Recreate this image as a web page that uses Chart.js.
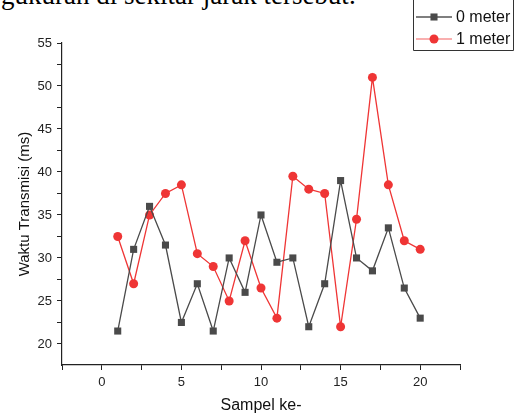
<!DOCTYPE html>
<html>
<head>
<meta charset="utf-8">
<script src="https://cdn.jsdelivr.net/npm/chart.js@4.4.0/dist/chart.umd.min.js"></script>
<style>
  html, body { margin: 0; padding: 0; background: #fff; overflow: hidden; }
  #wrap { position: relative; width: 525px; height: 417px; }
  #topText {
    position: absolute; left: 1px; top: -18px;
    font-family: "Liberation Serif", "Times New Roman", serif;
    font-size: 27px; line-height: 27px; color: #000; white-space: nowrap;
  }
  canvas { position: absolute; left: 0; top: 0; }
</style>
</head>
<body>
<div id="wrap">
  <div id="topText">gukuran di sekitar jarak tersebut.</div>
  <canvas id="chart" width="525" height="417"></canvas>
</div>
<script>
// Data
const sampel = [1, 2, 3, 4, 5, 6, 7, 8, 9, 10, 11, 12, 13, 14, 15, 16, 17, 18, 19, 20];
const waktu0m = [21.5, 31, 36, 31.5, 22.5, 27, 21.5, 30, 26, 35, 29.5, 30, 22, 27, 39, 30, 28.5, 33.5, 26.5, 23];
const waktu1m = [32.5, 27, 35, 37.5, 38.5, 30.5, 29, 25, 32, 26.5, 23, 39.5, 38, 37.5, 22, 34.5, 51, 38.5, 32, 31];
const seriesNames = ['0 meter', '1 meter'];
const xTicks = [-2.5, 0, 2.5, 5, 7.5, 10, 12.5, 15, 17.5, 20, 22.5];
const yTicks = [20, 22.5, 25, 27.5, 30, 32.5, 35, 37.5, 40, 42.5, 45, 47.5, 50, 52.5, 55];

const grey = '#4a4a4a';
const red = '#ef3535';

// Legend box drawn in the top right corner, like the original
const boxLegend = {
    id: 'boxLegend',
    afterDraw(chart) {
        const ctx = chart.ctx;
        ctx.save();
        ctx.strokeStyle = '#333';
        ctx.lineWidth = 1;
        ctx.beginPath();
        ctx.moveTo(413.5, 0);
        ctx.lineTo(413.5, 50.5);
        ctx.lineTo(513.5, 50.5);
        ctx.lineTo(513.5, 0);
        ctx.stroke();

        const rows = [
            { y: 17, line: '#555', fill: grey, style: 'rect', r: 5 },
            { y: 39, line: '#f79595', fill: red, style: 'circle', r: 4.5 }
        ];
        rows.forEach((row, i) => {
            ctx.strokeStyle = row.line;
            ctx.lineWidth = 1.3;
            ctx.beginPath();
            ctx.moveTo(416, row.y);
            ctx.lineTo(452, row.y);
            ctx.stroke();
            ctx.fillStyle = row.fill;
            ctx.strokeStyle = row.fill;
            Chart.helpers.drawPoint(ctx, { pointStyle: row.style, radius: row.r, borderWidth: 0 }, 434, row.y);
            ctx.fillStyle = '#111';
            ctx.font = '16px "Liberation Sans", Arial, sans-serif';
            ctx.textBaseline = 'middle';
            ctx.fillText(seriesNames[i], 456, row.y + 1);
        });
        ctx.restore();
    }
};

const tickFont = { family: '"Liberation Sans", Arial, sans-serif', size: 13 };

new Chart(document.getElementById('chart'), {
    type: 'scatter',
    data: {
        datasets: [
            {
                label: seriesNames[0],
                data: sampel.map((s, i) => ({ x: s, y: waktu0m[i] })),
                showLine: true,
                borderColor: grey,
                backgroundColor: grey,
                borderWidth: 1.3,
                pointStyle: 'rect',
                pointRadius: 5,
                pointBorderWidth: 0
            },
            {
                label: seriesNames[1],
                data: sampel.map((s, i) => ({ x: s, y: waktu1m[i] })),
                showLine: true,
                borderColor: red,
                backgroundColor: red,
                borderWidth: 1.3,
                pointStyle: 'circle',
                pointRadius: 4.5,
                pointBorderWidth: 0
            }
        ]
    },
    options: {
        responsive: false,
        animation: false,
        layout: { padding: { top: 43, right: 65, left: 0, bottom: 0 } },
        plugins: {
            legend: { display: false },
            tooltip: { enabled: false }
        },
        scales: {
            x: {
                type: 'linear',
                min: -2.5,
                max: 22.5,
                afterFit: scale => { scale.height = 52; },
                afterBuildTicks: scale => { scale.ticks = xTicks.map(v => ({ value: v })); },
                border: { display: true, color: '#222', width: 1.2 },
                grid: { drawOnChartArea: false, drawTicks: true, tickLength: 5, tickColor: '#222', tickWidth: 1 },
                ticks: {
                    color: '#222',
                    font: tickFont,
                    padding: 5,
                    maxRotation: 0,
                    autoSkip: false,
                    callback: v => (v % 5 === 0 ? String(v) : '')
                },
                title: {
                    display: true,
                    text: 'Sampel ke-',
                    color: '#111',
                    font: { family: '"Liberation Sans", Arial, sans-serif', size: 16 },
                    padding: { top: 0, bottom: 2 }
                }
            },
            y: {
                min: 17.55,
                max: 55,
                afterFit: scale => { scale.width = 62; },
                afterBuildTicks: scale => { scale.ticks = yTicks.map(v => ({ value: v })); },
                border: { display: true, color: '#222', width: 1.2 },
                grid: { drawOnChartArea: false, drawTicks: true, tickLength: 5, tickColor: '#222', tickWidth: 1 },
                ticks: {
                    color: '#222',
                    font: tickFont,
                    padding: 5,
                    autoSkip: false,
                    callback: v => (v % 5 === 0 ? String(v) : '')
                },
                title: {
                    display: true,
                    text: 'Waktu Transmisi (ms)',
                    color: '#111',
                    font: { family: '"Liberation Sans", Arial, sans-serif', size: 15 },
                    padding: { top: 16, bottom: 0 }
                }
            }
        }
    },
    plugins: [boxLegend]
});
</script>
</body>
</html>
